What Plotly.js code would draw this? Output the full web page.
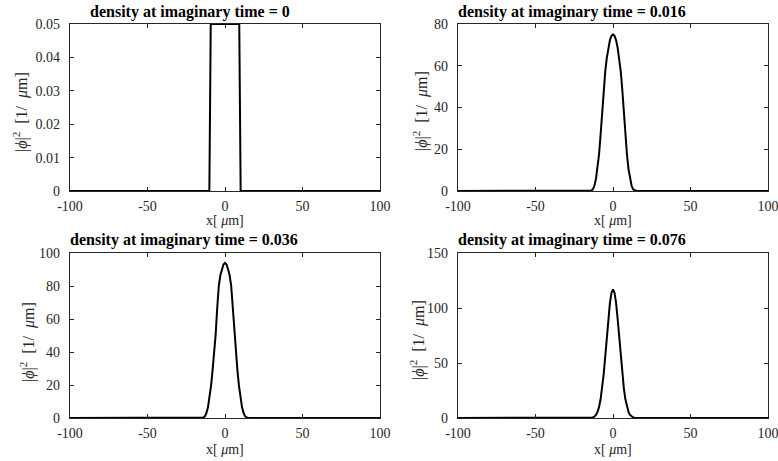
<!DOCTYPE html>
<html>
<head>
<meta charset="utf-8">
<script src="https://cdn.plot.ly/plotly-3.0.1.min.js"></script>
<style>html,body{margin:0;padding:0;background:#fff;}#chart{width:778px;height:461px;}</style>
</head>
<body>
<div id="chart"></div>
<script>
// ---- data ----
const titles = [
  "density at imaginary time = 0",
  "density at imaginary time = 0.016",
  "density at imaginary time = 0.036",
  "density at imaginary time = 0.076"
];
const xTicks = [-100, -50, 0, 50, 100];
const yTicks1 = [0, 0.01, 0.02, 0.03, 0.04, 0.05];
const yTicks2 = [0, 20, 40, 60, 80];
const yTicks3 = [0, 20, 40, 60, 80, 100];
const yTicks4 = [0, 50, 100, 150];

// t = 0: box
const x1 = [-100, -10.1, -9.2, 9.2, 10.1, 100];
const y1 = [0, 0, 0.05, 0.05, 0, 0];

// t > 0: sampled profiles
const xg = [-100, -15, -14, -13, -12, -11, -10, -9, -8, -7, -6, -5, -4, -3, -2, -1, 0,
            1, 2, 3, 4, 5, 6, 7, 8, 9, 10, 11, 12, 13, 14, 15, 100];
const y2 = [0, 0, 0.2, 0.8, 2.5, 5.8, 10.5, 17.5, 27, 37.5, 48.5, 57.3, 63.8, 68.6, 72.2, 74.3, 75,
            74.3, 72.2, 68.6, 63.8, 57.3, 48.5, 37.5, 27, 17.5, 10.5, 5.8, 2.5, 0.8, 0.2, 0, 0];
const y3 = [0, 0, 0.3, 1, 3, 6.5, 12, 19.5, 29, 39, 51, 67, 80, 86.5, 90, 93, 94,
            93, 90, 86.5, 80, 67, 51, 39, 29, 19.5, 12, 6.5, 3, 1, 0.3, 0, 0];
const y4 = [0, 0, 0.2, 0.5, 1.3, 2.8, 5.5, 10, 17, 27, 40, 56, 73, 90, 104.5, 113.7, 117,
            113.7, 104.5, 90, 73, 56, 40, 27, 17, 10, 5.5, 2.8, 1.3, 0.5, 0.2, 0, 0];

// ---- layout ----
const W = 778, H = 461;
const px = v => v / W;
const py = v => 1 - v / H;
const ink = '#262626';
const FAM = 'Liberation Serif';
const tickFont = {family: FAM, size: 14, color: ink};

function xax(dom, anchor) {
  return {domain: dom, anchor: anchor, range: [-100, 100], tickvals: xTicks,
    ticktext: xTicks.map(String), ticks: 'inside', ticklen: 4, tickwidth: 1, tickcolor: ink,
    showline: true, mirror: 'ticks', linecolor: ink, linewidth: 1.3, showgrid: false,
    zeroline: false, tickfont: tickFont, ticklabelstandoff: 2, ticklabeloverflow: 'allow',
    fixedrange: true};
}
function yax(dom, anchor, range, tv) {
  return {domain: dom, anchor: anchor, range: range, tickvals: tv, ticktext: tv.map(String),
    ticks: 'inside', ticklen: 4, tickwidth: 1, tickcolor: ink,
    showline: true, mirror: 'ticks', linecolor: ink, linewidth: 1.3, showgrid: false,
    zeroline: false, tickfont: tickFont, ticklabelstandoff: 6, ticklabeloverflow: 'allow',
    fixedrange: true};
}

const colL = [px(70), px(380)], colR = [px(458), px(768)];
const rowT = [py(191), py(24)], rowB = [py(418), py(253)];

const line = {color: '#000', width: 2};
const traces = [
  {x: x1, y: y1, xaxis: 'x', yaxis: 'y', mode: 'lines', line: line},
  {x: xg, y: y2, xaxis: 'x2', yaxis: 'y2', mode: 'lines', line: line},
  {x: xg, y: y3, xaxis: 'x3', yaxis: 'y3', mode: 'lines', line: line},
  {x: xg, y: y4, xaxis: 'x4', yaxis: 'y4', mode: 'lines', line: line}
];

const titleFont = {family: FAM, size: 16, color: '#000'};
const yLabFont = {family: FAM, size: 16, color: ink};
const xLabFont = {family: FAM, size: 14, color: ink};
const ylab = '|<i>ϕ</i>|<sup>2</sup>  [1/  <i>μ</i>m]';
const xlab = 'x[ <i>μ</i>m]';

const ann = [];
const tpos = [[190, 12.5], [572, 12.5], [184, 239.5], [572, 239.5]];
titles.forEach((t, i) => ann.push({text: '<b>' + t + '</b>', x: px(tpos[i][0]), y: py(tpos[i][1]),
  xref: 'paper', yref: 'paper', xanchor: 'center', yanchor: 'middle', showarrow: false, font: titleFont}));
const ypos = [[20, 112], [421, 111], [27, 342], [417, 340]];
ypos.forEach(p => ann.push({text: ylab, x: px(p[0]), y: py(p[1]), xref: 'paper', yref: 'paper',
  xanchor: 'center', yanchor: 'middle', textangle: -90, showarrow: false, font: yLabFont}));
const xpos = [[225, 221], [613, 221], [225, 449], [613, 449]];
xpos.forEach(p => ann.push({text: xlab, x: px(p[0]), y: py(p[1]), xref: 'paper', yref: 'paper',
  xanchor: 'center', yanchor: 'middle', showarrow: false, font: xLabFont}));

const layout = {
  width: W, height: H, margin: {l: 0, r: 0, t: 0, b: 0},
  paper_bgcolor: '#fff', plot_bgcolor: '#fff', showlegend: false,
  font: {family: FAM},
  xaxis: xax(colL, 'y'), yaxis: yax(rowT, 'x', [0, 0.05], yTicks1),
  xaxis2: xax(colR, 'y2'), yaxis2: yax(rowT, 'x2', [0, 80], yTicks2),
  xaxis3: xax(colL, 'y3'), yaxis3: yax(rowB, 'x3', [0, 100], yTicks3),
  xaxis4: xax(colR, 'y4'), yaxis4: yax(rowB, 'x4', [0, 150], yTicks4),
  annotations: ann
};
Plotly.newPlot('chart', traces, layout, {displayModeBar: false, staticPlot: true});
</script>
</body>
</html>
